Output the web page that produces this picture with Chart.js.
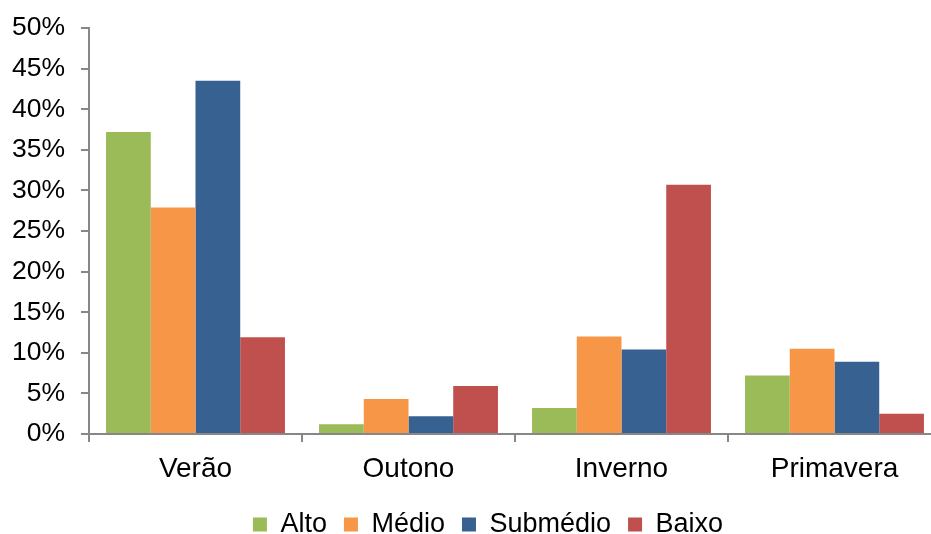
<!DOCTYPE html>
<html>
<head>
<meta charset="utf-8">
<script src="https://cdn.jsdelivr.net/npm/chart.js@4/dist/chart.umd.min.js"></script>
<style>
  html, body { margin: 0; padding: 0; background: #fff; overflow: hidden; }
  #wrap { width: 976px; height: 534px; position: relative; }
</style>
</head>
<body>
<div id="wrap"><canvas id="chart"></canvas></div>
<script>
// Seasons along the x axis
const seasons = ['Verão', 'Outono', 'Inverno', 'Primavera'];

// Share per class, in percent
const alto = [37.2, 1.2, 3.2, 7.2];
const medio = [27.9, 4.3, 12.0, 10.5];
const submedio = [43.5, 2.2, 10.4, 8.9];
const baixo = [11.9, 5.9, 30.7, 2.5];

const yTicks = [0, 5, 10, 15, 20, 25, 30, 35, 40, 45, 50];

const axisGray = '#878787';
const family = 'Liberation Sans, Arial, sans-serif';

// centre the legend on the whole canvas instead of the padded box
const legendShift = {
  id: 'legendShift',
  afterLayout(chart) {
    const lg = chart.legend;
    if (!lg) return;
    const dx = chart.width / 2 - (lg.left + lg.right) / 2;
    lg.left += dx;
    lg.right += dx;
  }
};

new Chart(document.getElementById('chart'), {
  type: 'bar',
  data: {
    labels: seasons,
    datasets: [
      { label: 'Alto', data: alto, backgroundColor: '#9BBB59' },
      { label: 'Médio', data: medio, backgroundColor: '#F79646' },
      { label: 'Submédio', data: submedio, backgroundColor: '#366190' },
      { label: 'Baixo', data: baixo, backgroundColor: '#C0504D' }
    ]
  },
  plugins: [legendShift],
  options: {
    responsive: true,
    maintainAspectRatio: false,
    animation: false,
    datasets: {
      bar: { categoryPercentage: 0.84, barPercentage: 1.0 }
    },
    layout: { padding: { top: 28, right: 35, left: 0, bottom: 0 } },
    plugins: {
      tooltip: { enabled: false },
      legend: {
        position: 'bottom',
        maxHeight: 40,
        labels: {
          boxWidth: 14,
          boxHeight: 14,
          padding: 17,
          color: '#000',
          font: { family: family, size: 27 }
        }
      }
    },
    scales: {
      x: {
        grid: {
          drawOnChartArea: false,
          color: axisGray,
          lineWidth: 2,
          tickLength: 8
        },
        border: { color: axisGray, width: 2 },
        ticks: { color: '#000', font: { family: family, size: 28 }, padding: 10 },
        afterFit: (scale) => { scale.height = 60; }
      },
      y: {
        min: 0,
        max: 50,
        afterBuildTicks: (scale) => { scale.ticks = yTicks.map(v => ({ value: v })); },
        grid: {
          drawOnChartArea: false,
          color: axisGray,
          lineWidth: 2,
          tickLength: 8
        },
        border: { color: axisGray, width: 2 },
        ticks: {
          color: '#000',
          font: { family: family, size: 26.5 },
          padding: 16,
          callback: (value) => value + '%'
        },
        afterFit: (scale) => {
          scale.width = 89;
          // label overhang is covered by the layout padding
          scale.paddingTop = 0;
          scale.paddingBottom = 0;
        }
      }
    }
  }
});
</script>
</body>
</html>
